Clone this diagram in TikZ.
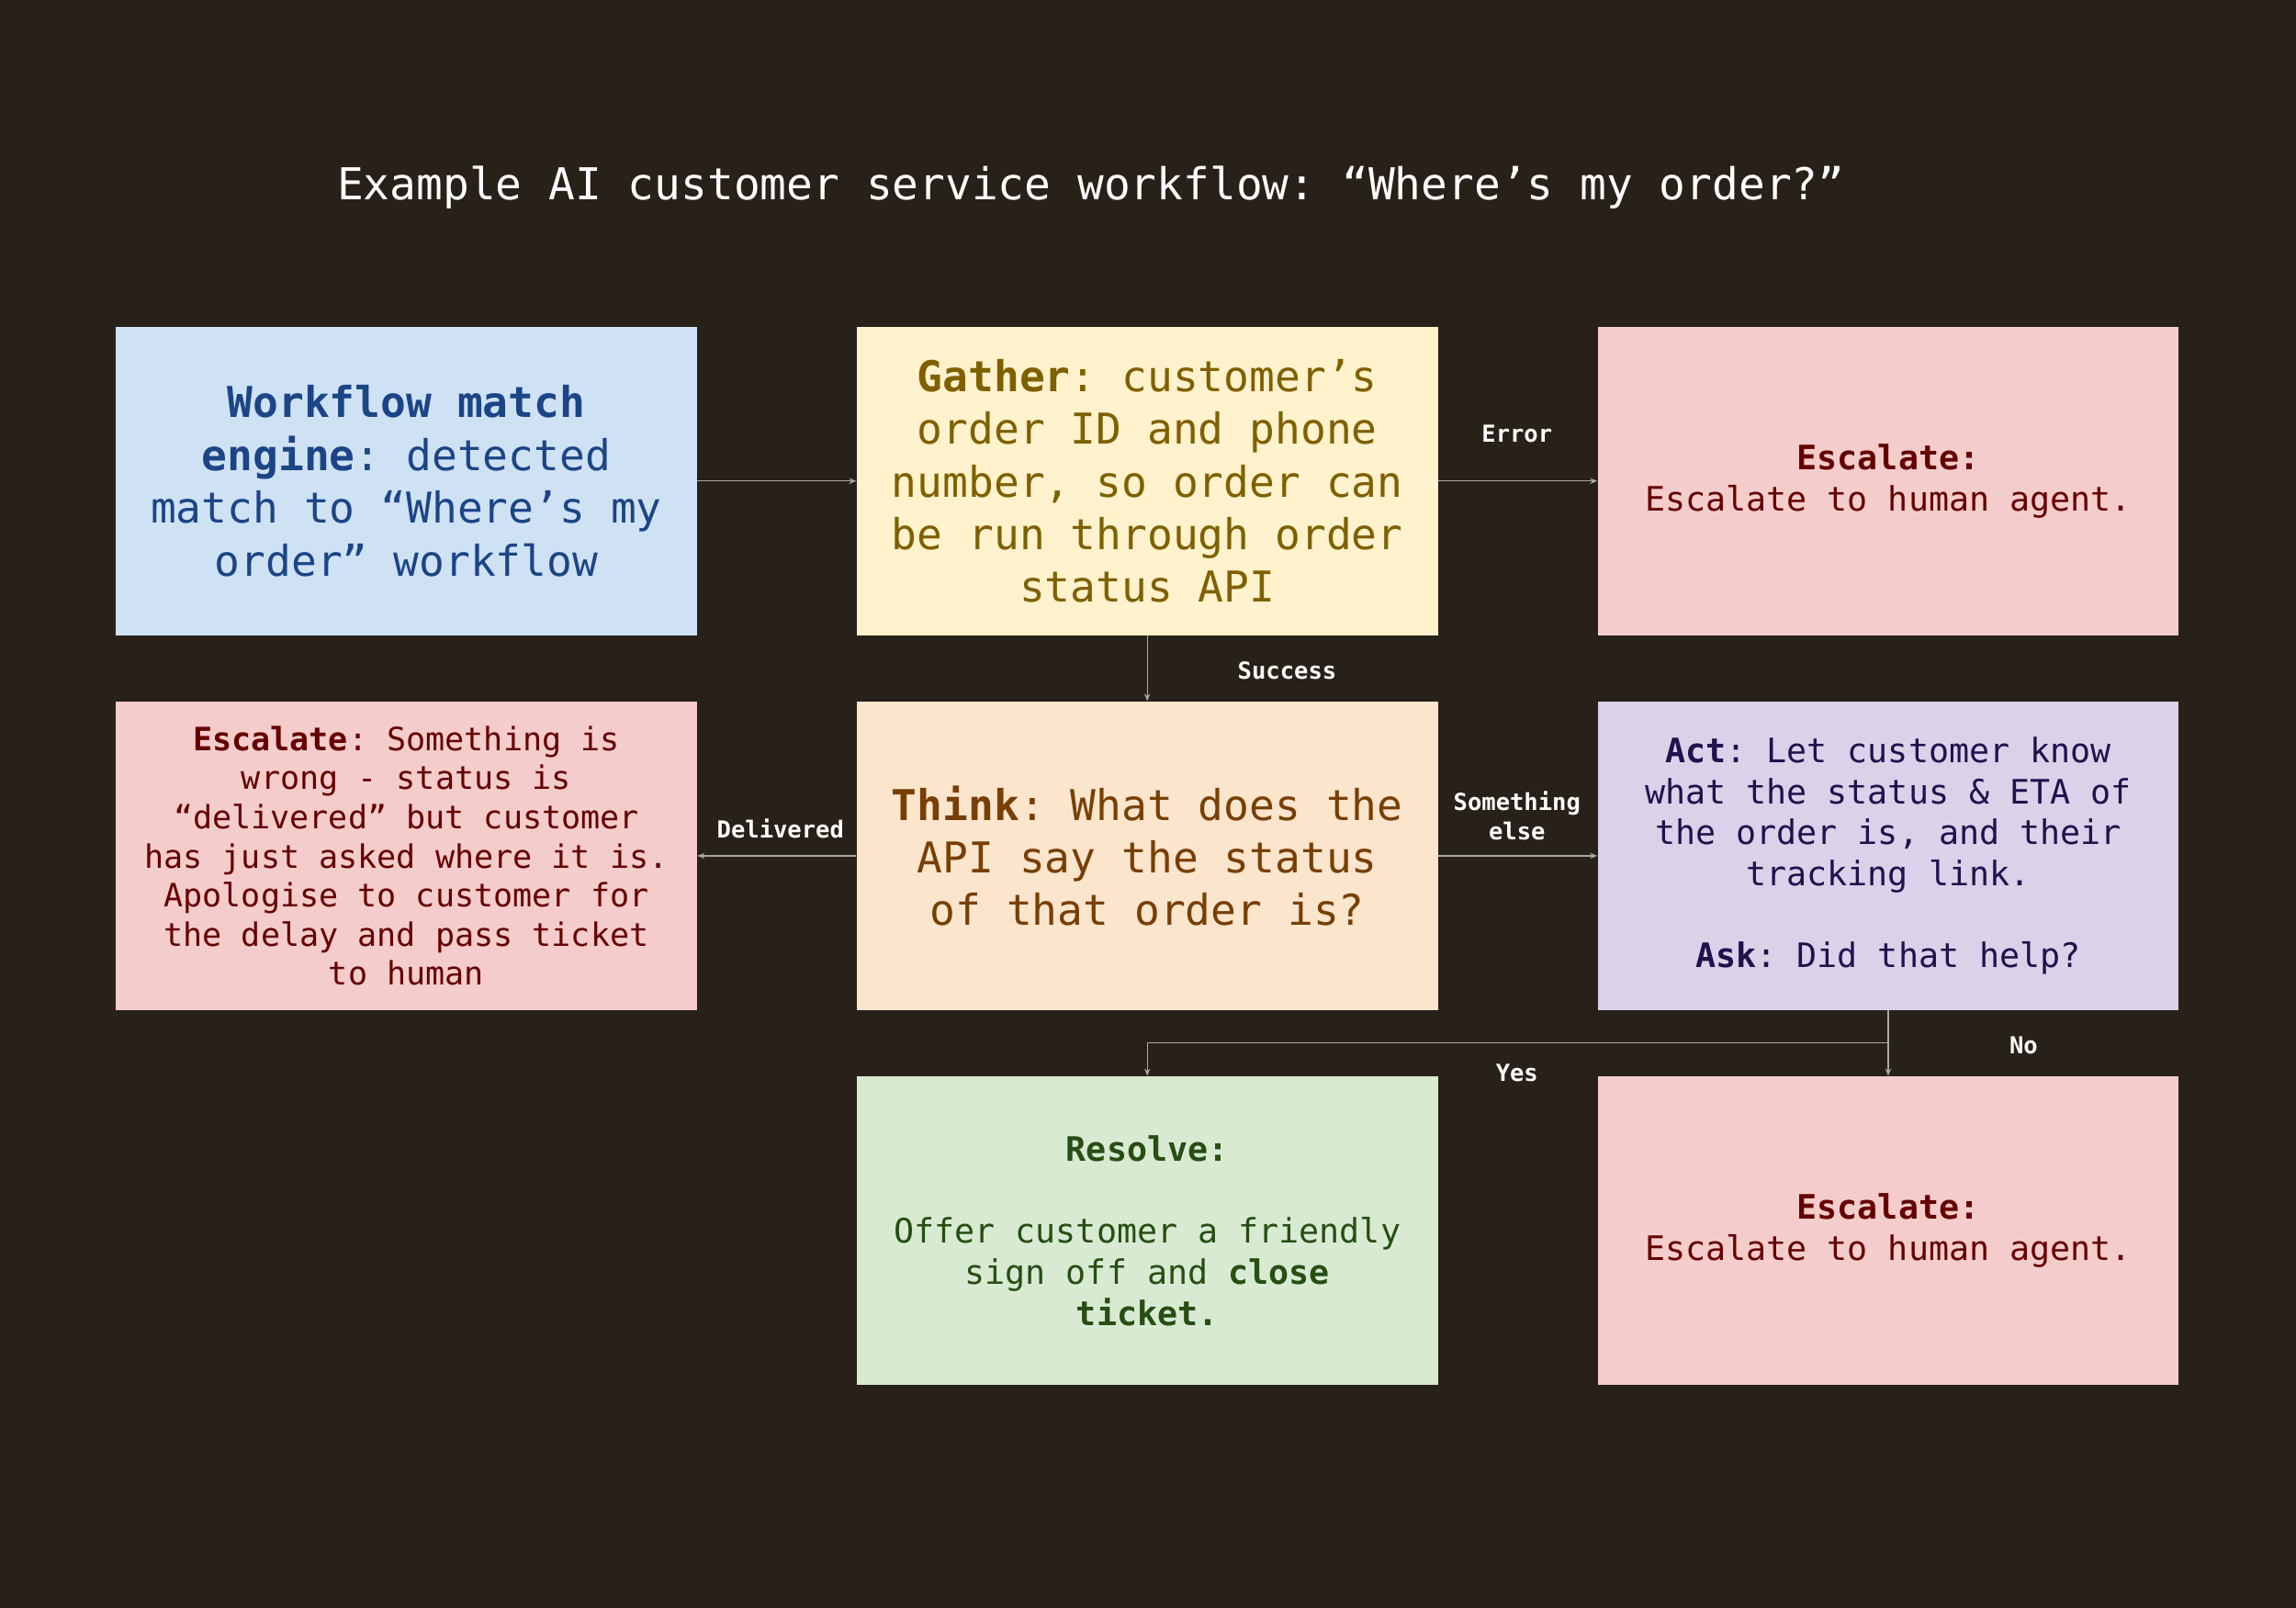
\documentclass[tikz,border=0pt]{standalone}
\usepackage{fontspec}
\setmonofont{DejaVu Sans Mono}
\usetikzlibrary{arrows.meta}
\definecolor{bg}{HTML}{272119}
\definecolor{bbox}{HTML}{CFE2F3}\definecolor{btxt}{HTML}{1C4587}
\definecolor{ybox}{HTML}{FFF2CC}\definecolor{ytxt}{HTML}{7F6000}
\definecolor{rbox}{HTML}{F4CCCC}\definecolor{rtxt}{HTML}{660000}
\definecolor{obox}{HTML}{FCE5CD}\definecolor{otxt}{HTML}{783F04}
\definecolor{pbox}{HTML}{D9D2E9}\definecolor{ptxt}{HTML}{20124D}
\definecolor{gbox}{HTML}{D9EAD3}\definecolor{gtxt}{HTML}{274E13}
\definecolor{ln}{HTML}{A8A8A8}
\begin{document}
\begin{tikzpicture}[x=1pt,y=-1pt,
 box/.style={minimum width=397pt,minimum height=211pt,inner sep=0pt,align=center,font=\ttfamily},
 big/.style={font=\ttfamily\fontsize{29}{36}\selectfont},
 mid/.style={font=\ttfamily\fontsize{23}{28}\selectfont},
 sml/.style={font=\ttfamily\fontsize{22}{26.7}\selectfont},
 lab/.style={text=white,font=\ttfamily\bfseries\fontsize{16}{20}\selectfont,align=center},
 con/.style={draw=ln,line width=0.8pt,-{Stealth[length=5pt,width=4pt]}}]
\fill[bg] (0,0) rectangle (1568,1098);
\useasboundingbox (0,0) rectangle (1568,1098);
\node[text=white,font=\ttfamily\fontsize{30}{36}\selectfont] (title) at (745,128) {Example AI customer service workflow: “Where’s my order?”};
\node[box,big,fill=bbox,text=btxt] (wm) at (277.5,328.5) {\textbf{Workflow match}\\\textbf{engine}: detected\\match to “Where’s my\\order” workflow};
\node[box,big,fill=ybox,text=ytxt] (ga) at (783.5,328.5) {\textbf{Gather}: customer’s\\order ID and phone\\number, so order can\\be run through order\\status API};
\node[box,mid,fill=rbox,text=rtxt] (e1) at (1289.5,328.5) {\textbf{Escalate:}\\Escalate to human agent.};
\node[box,sml,fill=rbox,text=rtxt] (e2) at (277.5,584.5) {\textbf{Escalate}: Something is\\wrong - status is\\“delivered” but customer\\has just asked where it is.\\Apologise to customer for\\the delay and pass ticket\\to human};
\node[box,big,fill=obox,text=otxt] (th) at (783.5,584.5) {\textbf{Think}: What does the\\API say the status\\of that order is?};
\node[box,mid,fill=pbox,text=ptxt] (act) at (1289.5,584.5) {\textbf{Act}: Let customer know\\what the status \& ETA of\\the order is, and their\\tracking link.\\[28pt]\textbf{Ask}: Did that help?};
\node[box,mid,fill=gbox,text=gtxt] (rs) at (783.5,840.5) {\textbf{Resolve:}\\[28pt]Offer customer a friendly\\sign off and \textbf{close}\\\textbf{ticket.}};
\node[box,mid,fill=rbox,text=rtxt] (e3) at (1289.5,840.5) {\textbf{Escalate:}\\Escalate to human agent.};
\draw[con] (wm) -- (ga);
\draw[con] (ga) -- (e1);
\draw[con] (ga) -- (th);
\draw[con] (th) -- (e2);
\draw[con] (th) -- (act);
\coordinate (j1) at (1289.5,712);
\coordinate (j2) at (783.5,712);
\draw[con] (act.south) -- (j1) -- (j2) -- (rs.north);
\draw[con] (act.south) -- (e3.north);
\node[lab] (l1) at (1036,296) {Error};
\node[lab] (l2) at (879,458) {Success};
\node[lab] (l3) at (533,566) {Delivered};
\node[lab] (l4) at (1036,557) {Something\\else};
\node[lab] (l5) at (1036,733) {Yes};
\node[lab] (l6) at (1382,714) {No};
\end{tikzpicture}
\end{document}
